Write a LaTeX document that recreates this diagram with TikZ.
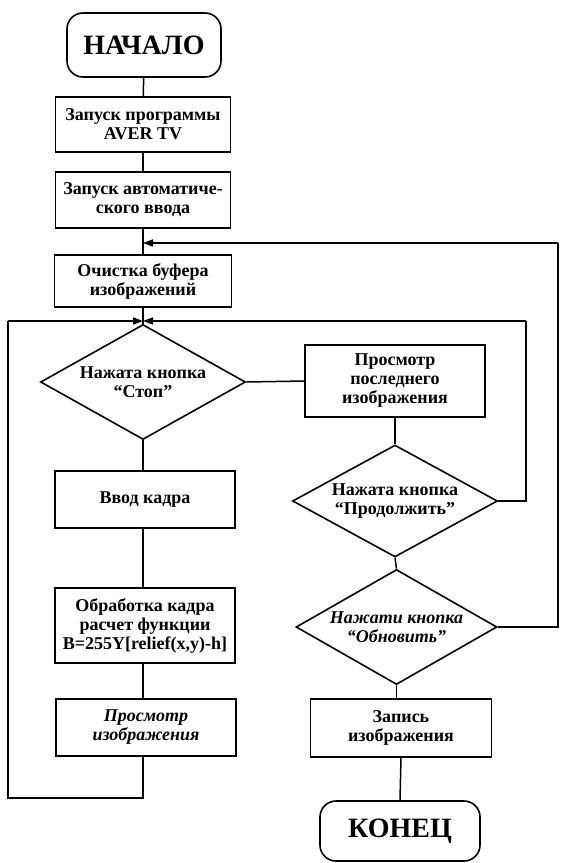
\documentclass[tikz,border=0pt]{standalone}
\usepackage{fontspec}
\setmainfont{Liberation Serif}
\usetikzlibrary{shapes.geometric,arrows.meta}
\begin{document}
\begin{tikzpicture}[x=1pt,y=-1pt,
  every node/.style={line width=1.6pt},
  txt/.style={font=\fontsize{18}{19}\selectfont\bfseries, align=center},
  itxt/.style={font=\fontsize{18}{19}\selectfont\bfseries\itshape, align=center},
  procbox/.style={draw, rectangle, inner sep=2pt, txt},
  termbox/.style={draw, rectangle, rounded corners=16pt, inner sep=2pt,
     font=\fontsize{28}{30}\selectfont\bfseries},
  dec/.style={draw, diamond, aspect=1.8, inner sep=0pt},
  conn/.style={line width=1.5pt},
  arr/.style={line width=1.5pt, -{Triangle[length=10pt,width=7pt]}}
]
\useasboundingbox (0,0) rectangle (561,863);

% left column
\node[termbox, minimum width=154pt, minimum height=64pt] (start) at (144,45) {НАЧАЛО};
\node[procbox, minimum width=175pt, minimum height=55pt] (b1) at (143,124.5) {Запуск программы\\AVER TV};
\node[procbox, minimum width=175pt, minimum height=56pt] (b2) at (143,200) {Запуск автоматиче-\\ского ввода};
\node[procbox, minimum width=177pt, minimum height=52pt] (b3) at (143,281) {Очистка буфера\\изображений};
\coordinate (j1) at (143,321);
\node[dec, txt, minimum width=205pt, minimum height=115pt] (stop) at (143,382) {Нажата кнопка\\“Стоп”};
\node[procbox, minimum width=180pt, minimum height=57pt] (vvod) at (145,499.5) {Ввод кадра};
\node[procbox, minimum width=180pt, minimum height=75pt] (obr) at (145,625.5) {Обработка кадра\\расчет функции\\B=255Y[relief(x,y)-h]};
\node[procbox, itxt, minimum width=180pt, minimum height=57pt] (prosm) at (146,727.5) {Просмотр\\изображения};

% right column
\node[procbox, minimum width=180pt, minimum height=72pt] (last) at (395,381) {Просмотр\\последнего\\изображения};
\node[dec, txt, minimum width=205pt, minimum height=112pt] (cont) at (395,501) {Нажата кнопка\\“Продолжить”};
\node[dec, itxt, minimum width=201pt, minimum height=115pt] (upd) at (396.5,627) {Нажати кнопка\\“Обновить”};
\node[procbox, minimum width=181pt, minimum height=58pt] (save) at (401,728) {Запись\\изображения};
\node[termbox, minimum width=160pt, minimum height=60pt] (end) at (400,831) {КОНЕЦ};

% helper coordinates
\coordinate (a1) at (143,243);
\coordinate (r1) at (558,627);
\coordinate (r2) at (558,243);
\coordinate (c1) at (526,501);
\coordinate (c2) at (526,321);
\coordinate (l1) at (143,798);
\coordinate (l2) at (8,798);
\coordinate (l3) at (8,321);

% main flow
\draw[conn] (start) -- (b1);
\draw[conn] (b1) -- (b2);
\draw[conn] (b2) -- (b3);
\draw[conn] (b3.south) -- (stop.north);
\draw[conn] (stop.south) -- (stop.south |- vvod.north);
\draw[conn] (vvod.south -| stop.south) -- (obr.north -| stop.south);
\draw[conn] (obr.south -| stop.south) -- (prosm.north -| stop.south);
\draw[conn] (prosm.south -| stop.south) -- (l1) -- (l2) -- (l3);
\draw[arr] (l3) -- (j1);
\draw[conn] (stop.east) -- (last.west);
\draw[conn] (last.south) -- (cont.north);
\draw[conn] (cont.south) -- (upd.north);
\draw[conn] (upd.south) -- (save.north -| upd.south);
\draw[conn] (save.south) -- (end.north);
% loops
\draw[conn] (cont.east) -- (c1) -- (c2);
\draw[arr] (c2) -- (j1);
\draw[conn] (upd.east) -- (r1) -- (r2);
\draw[arr] (r2) -- (a1);
\end{tikzpicture}
\end{document}
